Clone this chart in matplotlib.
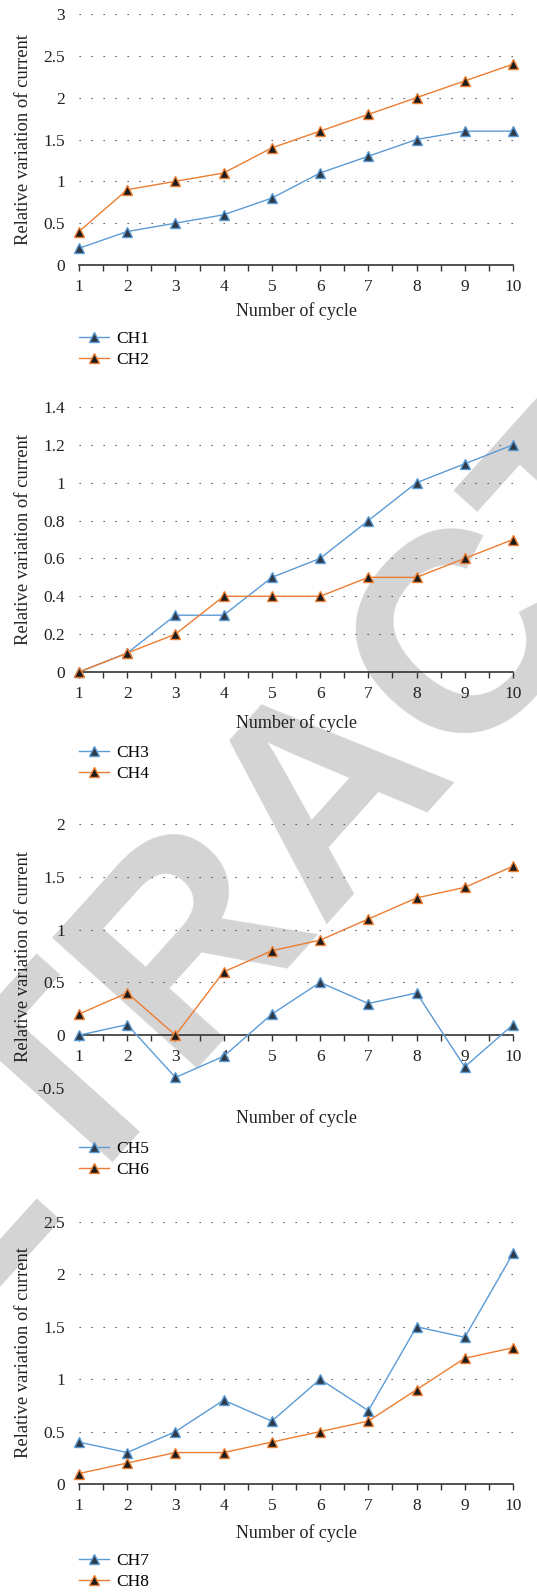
import matplotlib
matplotlib.use("Agg")
import matplotlib.pyplot as plt
from matplotlib.ticker import FuncFormatter, MultipleLocator

plt.rcParams['font.family'] = ['Liberation Serif', 'DejaVu Serif']

cycles = [1, 2, 3, 4, 5, 6, 7, 8, 9, 10]

ch1 = [0.2, 0.4, 0.5, 0.6, 0.8, 1.1, 1.3, 1.5, 1.6, 1.6]
ch2 = [0.4, 0.9, 1.0, 1.1, 1.4, 1.6, 1.8, 2.0, 2.2, 2.4]
ch3 = [0.0, 0.1, 0.3, 0.3, 0.5, 0.6, 0.8, 1.0, 1.1, 1.2]
ch4 = [0.0, 0.1, 0.2, 0.4, 0.4, 0.4, 0.5, 0.5, 0.6, 0.7]
ch5 = [0.0, 0.1, -0.4, -0.2, 0.2, 0.5, 0.3, 0.4, -0.3, 0.1]
ch6 = [0.2, 0.4, 0.0, 0.6, 0.8, 0.9, 1.1, 1.3, 1.4, 1.6]
ch7 = [0.4, 0.3, 0.5, 0.8, 0.6, 1.0, 0.7, 1.5, 1.4, 2.2]
ch8 = [0.1, 0.2, 0.3, 0.3, 0.4, 0.5, 0.6, 0.9, 1.2, 1.3]

panels = [
    (("CH1", ch1), ("CH2", ch2), (0, 3), 0.5),
    (("CH3", ch3), ("CH4", ch4), (0, 1.4), 0.2),
    (("CH5", ch5), ("CH6", ch6), (-0.5, 2), 0.5),
    (("CH7", ch7), ("CH8", ch8), (0, 2.5), 0.5),
]

W, H = 537, 1592
# plot area (top, bottom) in pixels, legend first-row centre
boxes = [(14, 265, 341), (407, 672, 755), (824, 1088, 1151), (1222, 1484, 1563)]
xlabel_y = [310, 722, 1117, 1532]
left, right = 79, 513

blue = '#5B9BD5'
orange = '#ED7D31'

fig = plt.figure(figsize=(W / 100, H / 100), dpi=100)

# retraction watermark behind everything
fig.text(330 / W, 1 - 790 / H, "RETRACTED", family='Liberation Sans', weight='bold',
         fontsize=205, color='#d4d4d4', rotation=48, ha='center', va='center',
         rotation_mode='anchor', zorder=-5)

fmt = FuncFormatter(lambda v, p: f"{v:g}")

for i, (s1, s2, ylim, step) in enumerate(panels):
    top, bot, leg_y = boxes[i]
    ax = fig.add_axes([left / W, 1 - bot / H, (right - left) / W, (bot - top) / H])
    ax.set_facecolor('none')

    ax.plot(cycles, s1[1], color=blue, lw=1.0, marker='^', ms=7,
            mfc='#2f3a48', mec=blue, mew=1.0, label=s1[0], clip_on=False, zorder=4)
    ax.plot(cycles, s2[1], color=orange, lw=1.0, marker='^', ms=7,
            mfc='#1c1c1c', mec=orange, mew=1.0, label=s2[0], clip_on=False, zorder=5)

    ax.set_xlim(1, 10)
    ax.set_ylim(*ylim)
    ax.yaxis.set_major_locator(MultipleLocator(step))
    ax.yaxis.set_major_formatter(fmt)
    ax.set_xticks(cycles)
    ax.xaxis.set_minor_locator(MultipleLocator(0.5))

    for s in ['top', 'right', 'left']:
        ax.spines[s].set_visible(False)
    ax.spines['bottom'].set_position(('data', 0))
    ax.spines['bottom'].set_color('#333333')
    ax.spines['bottom'].set_linewidth(1.2)

    ax.tick_params(axis='y', length=0, pad=10, labelsize=12.5, colors='#222222')
    ax.tick_params(axis='x', which='both', direction='out', length=4, width=1,
                   color='#333333', pad=6, labelsize=12.5, labelcolor='#222222')

    ax.grid(axis='y', color='#444444', lw=0.8, linestyle=(0, (1.2, 9.6)))
    for gl, v in zip(ax.get_ygridlines(), ax.get_yticks()):
        if abs(v) < 1e-9:
            gl.set_visible(False)

    ax.set_xlabel("Number of cycle", fontsize=13, color='#222222')
    ax.xaxis.set_label_coords(0.5, (bot - xlabel_y[i] + 8) / (bot - top))
    ax.set_ylabel("Relative variation of current", fontsize=13.4, color='#222222')
    ax.yaxis.set_label_coords((32 - left) / (right - left), 0.5)

    ax.legend(loc='upper left', bbox_to_anchor=(left / W, 1 - (leg_y - 10) / H),
              bbox_transform=fig.transFigure, frameon=False, fontsize=12.5,
              borderpad=0, borderaxespad=0, handlelength=1.75, handletextpad=0.4,
              labelspacing=0.25)

fig.savefig("out.png", dpi=100)
